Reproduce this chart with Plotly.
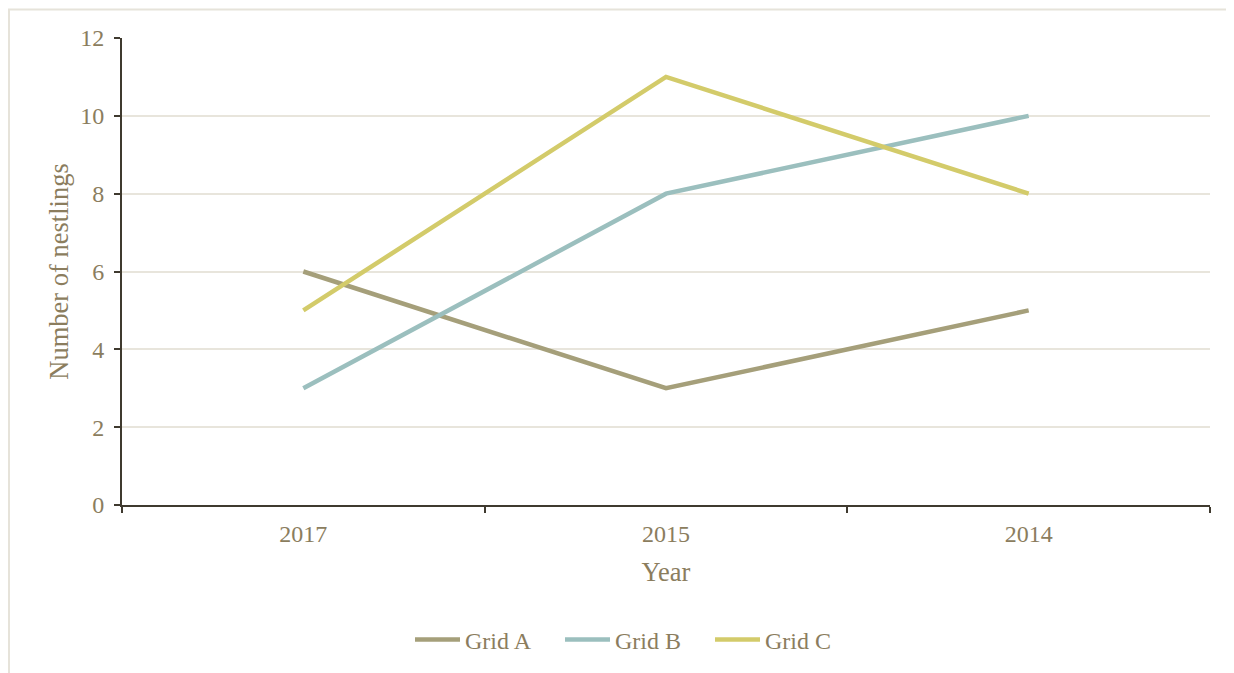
import plotly.graph_objects as go

years = ["2017", "2015", "2014"]
grid_a = [6, 3, 5]
grid_b = [3, 8, 10]
grid_c = [5, 11, 8]
series_names = ["Grid A", "Grid B", "Grid C"]
colors = ["#A59F7A", "#9BBFBE", "#D3CB6A"]
y_ticks = [0, 2, 4, 6, 8, 10, 12]

text_color = "#8B7D5E"
axis_color = "#3F3A2F"
font_family = "Liberation Serif, Times New Roman, serif"

OFF = 8  # browser body margin
W, H = 1234 - OFF, 673 - OFF
L, R, T, B = 122 - OFF, 24, 38 - OFF, 167
pw, ph = W - L - R, H - T - B

fig = go.Figure()
for name, vals, col in zip(series_names, [grid_a, grid_b, grid_c], colors):
    fig.add_trace(go.Scatter(x=years, y=vals, mode="lines", name=name,
                             line=dict(color=col, width=4.5)))

# convert page pixel coords to paper coords
def px_x(x):
    return (x - OFF - L) / pw
def px_y(y):
    return (H - B - (y - OFF)) / ph

fig.add_shape(type="rect", xref="paper", yref="paper",
              x0=px_x(9), x1=px_x(1245), y0=px_y(690), y1=px_y(9.5),
              line=dict(color="#E6E3DA", width=2), fillcolor="rgba(0,0,0,0)", layer="below")

fig.update_layout(
    width=W, height=H,
    margin=dict(l=L, r=R, t=T, b=B),
    paper_bgcolor="white", plot_bgcolor="white",
    font=dict(family=font_family, color=text_color, size=24),
    showlegend=True,
    legend=dict(orientation="h", x=px_x(410), xanchor="left", y=px_y(640), yanchor="middle",
                font=dict(size=24, color=text_color), tracegroupgap=0,
                entrywidth=90, itemwidth=45),
    xaxis=dict(
        type="category", range=[-0.5, 2.5], tickson="boundaries",
        ticks="outside", ticklen=6, tickwidth=2, tickcolor=axis_color,
        showline=True, linecolor=axis_color, linewidth=2,
        showgrid=False, zeroline=False, ticklabelstandoff=6,
        tickfont=dict(size=24, color=text_color),
        title=dict(text="Year", font=dict(size=26.5, color=text_color), standoff=17),
    ),
    yaxis=dict(
        range=[0, 12], tickvals=y_ticks,
        ticks="outside", ticklen=6, tickwidth=2, tickcolor=axis_color,
        showline=True, linecolor=axis_color, linewidth=2,
        showgrid=True, gridcolor="#E8E5DC", gridwidth=2, zeroline=False,
        ticklabelstandoff=5,
        tickfont=dict(size=24, color=text_color),
        title=dict(text="Number of nestlings", font=dict(size=26.5, color=text_color), standoff=4),
    ),
)

fig.write_html("out.html")
